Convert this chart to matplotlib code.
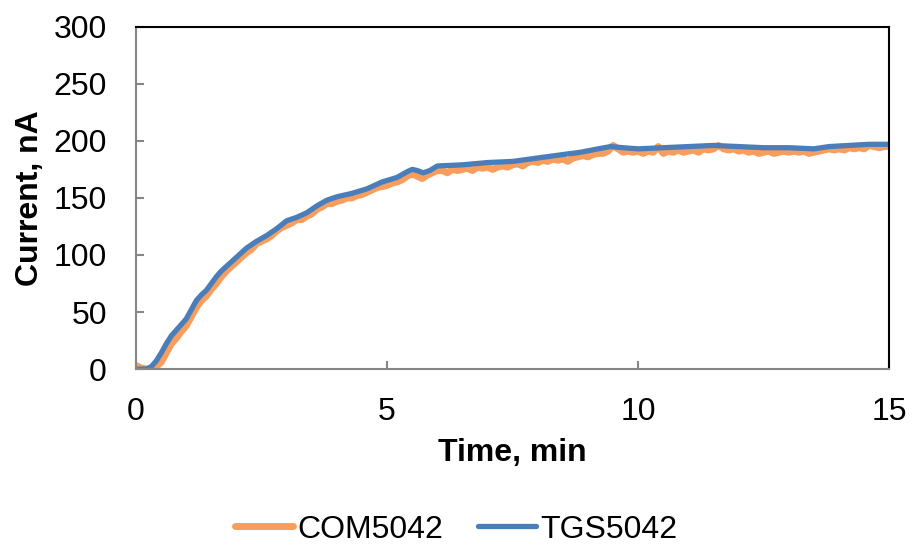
import numpy as np
import matplotlib
matplotlib.use('Agg')
import matplotlib.pyplot as plt

plt.rcParams['font.family'] = ['Liberation Sans', 'DejaVu Sans']

# TGS5042 (smooth curve)
tgs_t = [0, 0.2, 0.3, 0.4, 0.5, 0.6, 0.7, 0.8, 0.9, 1.0, 1.1, 1.2, 1.3, 1.4, 1.5,
         1.6, 1.7, 1.8, 1.9, 2.0, 2.2, 2.4, 2.6, 2.8, 3.0, 3.2, 3.4, 3.6, 3.8,
         4.0, 4.3, 4.6, 4.9, 5.2, 5.4, 5.5, 5.6, 5.72, 5.85, 6.0, 6.5, 7.0, 7.5,
         8.0, 8.5, 8.85, 9.2, 9.45, 9.7, 10.0, 10.5, 11.0, 11.5, 12.0, 12.5,
         13.0, 13.5, 13.8, 14.2, 14.6, 15.0]
tgs_i = [0, 0, 2, 7, 14, 22, 29, 34, 39, 44, 52, 60, 65, 69, 75,
         81, 86, 90, 94, 98, 106, 112, 117, 123, 130, 133, 137, 143, 148,
         151, 154, 158, 164, 168, 173, 175, 174, 172, 174, 178, 179, 181, 182,
         185, 188, 190, 193, 195, 194, 193, 194, 195, 196, 195, 194,
         194, 193, 195, 196, 197, 197]

# COM5042 (noisy), one reading every 0.1 min
com_t = np.linspace(0, 15, 151)
com_i = [3, 1, 0, 0, 2, 6, 14, 22, 27, 33,
         38, 46, 54, 60, 64, 70, 75, 81, 86, 90,
         94, 98, 102, 105, 110, 112, 114, 117, 121, 124,
         126, 128, 131, 131, 134, 136, 140, 142, 145, 145,
         147, 148, 150, 150, 152, 153, 155, 157, 159, 160,
         161, 163, 164, 166, 169, 171, 169, 167, 170, 172,
         174, 174, 172, 175, 174, 175, 176, 174, 177, 176,
         177, 175, 177, 178, 177, 179, 180, 178, 181, 182,
         181, 183, 182, 184, 183, 184, 182, 185, 186, 187,
         186, 188, 189, 189, 191, 196, 193, 190, 191, 190,
         191, 189, 191, 190, 195, 189, 191, 190, 192, 190,
         191, 192, 190, 193, 192, 193, 196, 193, 192, 193,
         191, 192, 190, 191, 189, 190, 191, 189, 190, 191,
         190, 191, 190, 191, 189, 190, 191, 192, 193, 192,
         193, 192, 194, 193, 194, 193, 196, 195, 194, 195, 195]

fig = plt.figure(figsize=(9.13, 5.46), dpi=100)
ax = fig.add_axes([0.149, 0.324, 0.825, 0.627])

ax.plot(com_t, com_i, color='#F99D5C', lw=5, solid_capstyle='round', label='COM5042')
ax.plot(tgs_t, tgs_i, color='#4A7EBB', lw=3.8, solid_capstyle='round',
        solid_joinstyle='round', label='TGS5042')

ax.set_xlim(0, 15)
ax.set_ylim(0, 300)
ax.set_xticks([0, 5, 10, 15])
ax.set_yticks(range(0, 301, 50))

for s in ['left', 'bottom']:
    ax.spines[s].set_color('#868686')
    ax.spines[s].set_linewidth(1.5)
for s in ['top', 'right']:
    ax.spines[s].set_color('black')
    ax.spines[s].set_linewidth(1.5)
ax.tick_params(direction='in', length=6, width=1.5, color='#868686',
               labelsize=23)
ax.tick_params(axis='x', pad=20)
ax.tick_params(axis='y', pad=21)

ax.set_xlabel('Time, min', fontsize=23, fontweight='bold', labelpad=8)
ax.set_ylabel('Current, nA', fontsize=23, fontweight='bold', labelpad=6)

fig.legend(loc='lower center', bbox_to_anchor=(0.5, -0.05), ncol=2, frameon=False,
           fontsize=23, handlelength=1.8, handletextpad=0.15, columnspacing=1.1)

fig.savefig('out.png', dpi=100)
